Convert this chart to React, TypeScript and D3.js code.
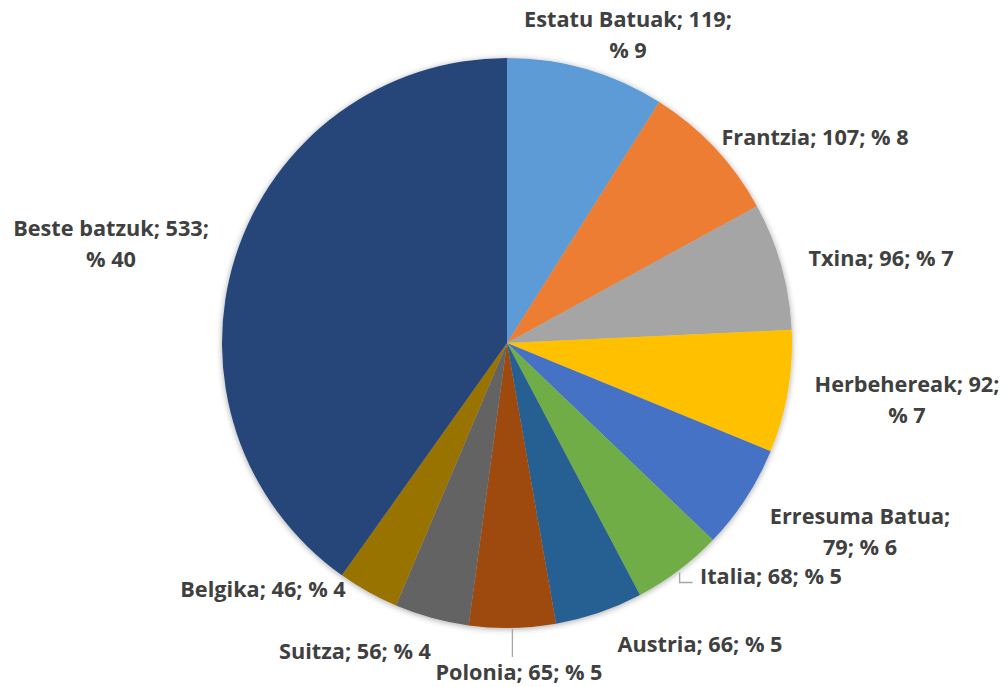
import React from "react";
import * as d3 from "d3";

const categories = ["Estatu Batuak", "Frantzia", "Txina", "Herbehereak", "Erresuma Batua", "Italia", "Austria", "Polonia", "Suitza", "Belgika", "Beste batzuk"];
const values = [119, 107, 96, 92, 79, 68, 66, 65, 56, 46, 533];
const percents = [9, 8, 7, 7, 6, 5, 5, 5, 4, 4, 40];
const colors = ["#5B9BD5", "#ED7D31", "#A5A5A5", "#FFC000", "#4472C4", "#70AD47", "#255E91", "#9E480E", "#636363", "#997300", "#264478"];

// label layout: text lines centre x, first baseline y
const labelLayout: { x: number; y: number; lines: number }[] = [
  { x: 628, y: 27, lines: 2 },
  { x: 815, y: 145, lines: 1 },
  { x: 881, y: 266, lines: 1 },
  { x: 907, y: 392, lines: 2 },
  { x: 860, y: 524, lines: 2 },
  { x: 771, y: 584, lines: 1 },
  { x: 700, y: 652, lines: 1 },
  { x: 519, y: 680, lines: 1 },
  { x: 355, y: 659, lines: 1 },
  { x: 263, y: 597, lines: 1 },
  { x: 111, y: 236, lines: 2 },
];

function labelLines(i: number): string[] {
  const c = categories[i], v = values[i], p = percents[i];
  const L = labelLayout[i].lines;
  if (L === 1) return [`${c}; ${v}; % ${p}`];
  if (i === 4) return [`${c};`, `${v}; % ${p}`];
  return [`${c}; ${v};`, `% ${p}`];
}

export default function App() {
  const W = 1008, H = 687;
  const cx = 507, cy = 343, r = 285;
  const pie = d3.pie<number>().sort(null).value((d) => d)(values);
  const arc = d3.arc<d3.PieArcDatum<number>>().innerRadius(0).outerRadius(r);
  const outer = d3.arc<d3.PieArcDatum<number>>().innerRadius(r).outerRadius(r);

  const itP = outer.centroid(pie[5]);
  const poP = outer.centroid(pie[7]);

  return (
    <svg width={W} height={H} style={{ position: "absolute", left: 0, top: 0, background: "#fff" }}>
      <defs>
        <filter id="sh" x="-10%" y="-10%" width="120%" height="120%">
          <feGaussianBlur in="SourceAlpha" stdDeviation="3" />
          <feOffset dx="0" dy="1" />
          <feComponentTransfer><feFuncA type="linear" slope="0.35" /></feComponentTransfer>
          <feMerge><feMergeNode /><feMergeNode in="SourceGraphic" /></feMerge>
        </filter>
      </defs>
      <g transform={`translate(${cx},${cy})`} filter="url(#sh)">
        {pie.map((d, i) => (
          <path key={i} d={arc(d) || ""} fill={colors[i]} />
        ))}
      </g>
      <g transform={`translate(${cx},${cy})`} stroke="#A6A6A6" strokeWidth={1.3} fill="none">
        <polyline points={`${itP[0] + 1},${itP[1] + 2} ${itP[0] + 1},${itP[1] + 12} ${itP[0] + 14},${itP[1] + 12}`} />
        <line x1={poP[0]} y1={poP[1] + 1} x2={poP[0]} y2={poP[1] + 29} />
      </g>
      <g fontFamily="'Open Sans', Lato, sans-serif" fontWeight={700} fontSize={21.7} fill="#404040" textAnchor="middle">
        {labelLayout.map((l, i) => (
          <text key={i} x={l.x} y={l.y}>
            {labelLines(i).map((s, j) => (
              <tspan key={j} x={l.x} dy={j === 0 ? 0 : 31}>{s}</tspan>
            ))}
          </text>
        ))}
      </g>
    </svg>
  );
}
